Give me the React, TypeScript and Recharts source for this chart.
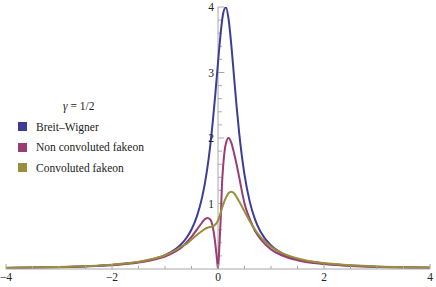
import { LineChart, Line, XAxis, YAxis, ReferenceLine } from 'recharts';

const xs = [-4, -3.5, -3, -2.5, -2, -1.5, -1.2, -1, -0.8, -0.7, -0.6, -0.5, -0.4, -0.3, -0.25, -0.2, -0.15, -0.1, -0.05, -0.02, 0, 0.02, 0.05, 0.08, 0.1, 0.15, 0.2, 0.25, 0.3, 0.35, 0.4, 0.5, 0.6, 0.7, 0.8, 1, 1.2, 1.5, 2, 2.5, 3, 3.5, 4];

const breitWigner = [0.017, 0.022, 0.029, 0.042, 0.063, 0.106, 0.156, 0.212, 0.305, 0.374, 0.47, 0.604, 0.8, 1.094, 1.296, 1.547, 1.857, 2.234, 2.675, 2.96, 3.152, 3.34, 3.6, 3.81, 3.914, 3.995, 3.81, 3.43, 2.96, 2.49, 2.075, 1.44, 1.025, 0.754, 0.573, 0.359, 0.244, 0.152, 0.083, 0.052, 0.035, 0.026, 0.0195];

const nonConvoluted = [0.016, 0.021, 0.027, 0.039, 0.058, 0.098, 0.143, 0.19, 0.27, 0.32, 0.4, 0.49, 0.6, 0.71, 0.76, 0.78, 0.76, 0.65, 0.38, 0.15, 0, 0.25, 0.75, 1.36, 1.6, 1.92, 2.0, 1.93, 1.78, 1.6, 1.4, 1.0, 0.76, 0.58, 0.46, 0.3, 0.21, 0.135, 0.075, 0.047, 0.032, 0.024, 0.018];

const convoluted = [0.02, 0.025, 0.032, 0.045, 0.066, 0.11, 0.16, 0.21, 0.29, 0.34, 0.38, 0.45, 0.52, 0.58, 0.61, 0.63, 0.64, 0.65, 0.68, 0.71, 0.74, 0.78, 0.86, 0.94, 0.99, 1.09, 1.16, 1.18, 1.16, 1.1, 1.03, 0.88, 0.73, 0.6, 0.49, 0.34, 0.245, 0.16, 0.09, 0.056, 0.038, 0.028, 0.022];

const xTicks = [-4, -3.5, -3, -2.5, -2, -1.5, -1, -0.5, 0, 0.5, 1, 1.5, 2, 2.5, 3, 3.5, 4];
const xLabels = [-4, -2, 0, 2, 4];
const yTicks = [0.2, 0.4, 0.6, 0.8, 1, 1.2, 1.4, 1.6, 1.8, 2, 2.2, 2.4, 2.6, 2.8, 3, 3.2, 3.4, 3.6, 3.8, 4];
const yLabels = [1, 2, 3, 4];

const seriesNames = ['Breit\u2013Wigner', 'Non convoluted fakeon', 'Convoluted fakeon'];
const colors = ['#3d3d99', '#993d74', '#998e3d'];

const data = xs.map((x, i) => ({
  x,
  bw: breitWigner[i],
  nc: nonConvoluted[i],
  cv: convoluted[i],
}));

const FONT = '"Liberation Serif", "Times New Roman", serif';
const AXIS = '#a8a8a8';

const XTick = ({ x, y, payload }: any) => {
  const major = xLabels.includes(payload.value);
  return (
    <g>
      <line x1={x} x2={x} y1={y} y2={y - (major ? 5 : 3)} stroke={AXIS} />
      {major && (
        <text x={x} y={y + 12} textAnchor="middle" fontSize={11.5} fontFamily={FONT} fill="#222">
          {payload.value < 0 ? `\u2212${-payload.value}` : payload.value}
        </text>
      )}
    </g>
  );
};

// legend drawn as an overlay so it doesn't shrink the plot area
const LegendBox = () => (
  <div
    style={{
      position: 'absolute',
      left: 18,
      top: 96,
      fontFamily: FONT,
      fontSize: 11.5,
      color: '#222',
      lineHeight: '20.5px',
    }}
  >
    <div style={{ paddingLeft: 45 }}>
      <i>γ</i> = 1/2
    </div>
    {seriesNames.map((name, i) => (
      <div key={name} style={{ display: 'flex', alignItems: 'center' }}>
        <span style={{ display: 'inline-block', width: 9, height: 9, background: colors[i], marginRight: 9 }} />
        {name}
      </div>
    ))}
  </div>
);

export default function App() {
  return (
    <div style={{ position: 'absolute', left: 0, top: 0, width: 436, height: 287, background: '#fff' }}>
      <LineChart width={436} height={287} data={data} margin={{ top: 7, right: 6, left: 6, bottom: 0 }}>
        <XAxis
          dataKey="x"
          type="number"
          domain={[-4, 4]}
          ticks={xTicks}
          allowDataOverflow
          height={18}
          axisLine={{ stroke: AXIS }}
          tickLine={false}
          tickSize={0}
          tickMargin={0}
          tick={<XTick />}
          interval={0}
        />
        <YAxis hide domain={[0, 4]} type="number" allowDataOverflow />
        <ReferenceLine x={0} stroke={AXIS} />
        {yTicks.map((v) => {
          const major = yLabels.includes(v);
          return (
            <ReferenceLine
              key={v}
              segment={[{ x: 0, y: v }, { x: major ? 0.12 : 0.075, y: v }]}
              stroke={AXIS}
              label={major ? { value: String(v), position: 'left', offset: 4, fontSize: 11.5, fontFamily: FONT, fill: '#222' } : undefined}
            />
          );
        })}
        <Line type="monotone" dataKey="bw" stroke={colors[0]} strokeWidth={2} dot={false} isAnimationActive={false} />
        <Line type="monotone" dataKey="nc" stroke={colors[1]} strokeWidth={2} dot={false} isAnimationActive={false} />
        <Line type="monotone" dataKey="cv" stroke={colors[2]} strokeWidth={2} dot={false} isAnimationActive={false} />
      </LineChart>
      <LegendBox />
    </div>
  );
}
